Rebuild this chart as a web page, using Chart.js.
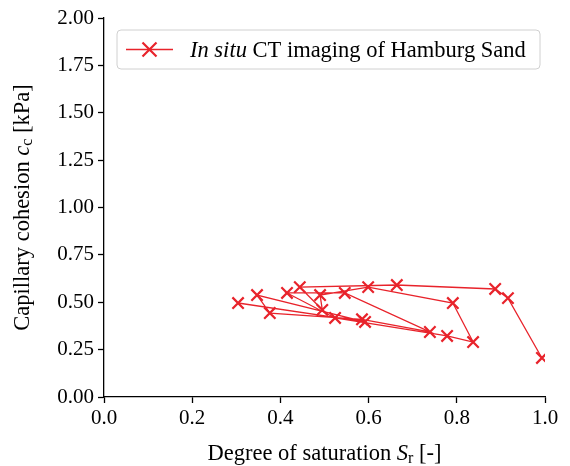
<!DOCTYPE html>
<html>
<head>
<meta charset="utf-8">
<script src="https://cdn.jsdelivr.net/npm/chart.js@4/dist/chart.umd.min.js"></script>
<style>
  html, body { margin: 0; padding: 0; background: #fff; }
  #wrap { width: 570px; height: 466px; position: relative; }
</style>
</head>
<body>
<div id="wrap"><canvas id="c" width="570" height="466"></canvas></div>
<script>
// Degree of saturation S_r [-] for each CT scan, in measurement order
const saturation = [0.304, 0.592, 0.347, 0.376, 0.585, 0.739, 0.546, 0.415, 0.524, 0.778,
                    0.837, 0.791, 0.599, 0.490, 0.495, 0.444, 0.664, 0.887, 0.916, 0.993];
// Capillary cohesion c_c [kPa] for the same scans
const cohesion   = [0.496, 0.396, 0.538, 0.443, 0.410, 0.343, 0.549, 0.549, 0.417, 0.322,
                    0.290, 0.496, 0.580, 0.538, 0.460, 0.580, 0.591, 0.570, 0.522, 0.206];
const xTicks = [0.0, 0.2, 0.4, 0.6, 0.8, 1.0];
const yTicks = [0.00, 0.25, 0.50, 0.75, 1.00, 1.25, 1.50, 1.75, 2.00];

const RED = '#e8232b';
const FONT = '"Liberation Serif", "Times New Roman", serif';
const TITLE_SIZE = 22.5;
const SUB_SIZE = 16;

const points = saturation.map((s, i) => ({ x: s, y: cohesion[i] }));

// Axis titles and legend with italic / subscript parts
const annotate = {
  id: 'annotate',
  afterDraw(chart) {
    const ctx = chart.ctx;
    const area = chart.chartArea;
    ctx.save();
    ctx.fillStyle = '#000';
    ctx.textBaseline = 'alphabetic';
    ctx.textAlign = 'left';

    function setFont(p) {
      ctx.font = (p.italic ? 'italic ' : '') + p.size + 'px ' + FONT;
    }
    function runs(parts, x, y) {
      let cx = x;
      for (const p of parts) {
        setFont(p);
        ctx.fillText(p.t, cx, y + (p.dy || 0));
        cx += ctx.measureText(p.t).width;
      }
    }
    function width(parts) {
      let w = 0;
      for (const p of parts) { setFont(p); w += ctx.measureText(p.t).width; }
      return w;
    }

    // x-axis title
    const xt = [
      { t: 'Degree of saturation ', size: TITLE_SIZE },
      { t: 'S', size: TITLE_SIZE, italic: true },
      { t: 'r', size: SUB_SIZE, dy: 3 },
      { t: ' [-]', size: TITLE_SIZE }
    ];
    runs(xt, (area.left + area.right) / 2 - width(xt) / 2, 460);

    // y-axis title (rotated)
    const yt = [
      { t: 'Capillary cohesion ', size: TITLE_SIZE },
      { t: 'c', size: TITLE_SIZE, italic: true },
      { t: 'c', size: SUB_SIZE, dy: 3 },
      { t: ' [kPa]', size: TITLE_SIZE }
    ];
    ctx.save();
    ctx.translate(29, (area.top + area.bottom) / 2);
    ctx.rotate(-Math.PI / 2);
    runs(yt, -width(yt) / 2, 0);
    ctx.restore();

    // legend box
    const bx = 117, by = 30, bw = 423, bh = 39, r = 4;
    ctx.beginPath();
    ctx.moveTo(bx + r, by);
    ctx.arcTo(bx + bw, by, bx + bw, by + bh, r);
    ctx.arcTo(bx + bw, by + bh, bx, by + bh, r);
    ctx.arcTo(bx, by + bh, bx, by, r);
    ctx.arcTo(bx, by, bx + bw, by, r);
    ctx.closePath();
    ctx.fillStyle = 'rgba(255,255,255,0.8)';
    ctx.fill();
    ctx.strokeStyle = '#d0d0d0';
    ctx.lineWidth = 1;
    ctx.stroke();

    const ly = by + bh / 2;
    ctx.strokeStyle = RED;
    ctx.lineWidth = 1.5;
    ctx.beginPath();
    ctx.moveTo(126, ly); ctx.lineTo(173, ly);
    ctx.stroke();
    ctx.lineWidth = 2.2;
    const m = 7;
    ctx.beginPath();
    ctx.moveTo(149.5 - m, ly - m); ctx.lineTo(149.5 + m, ly + m);
    ctx.moveTo(149.5 - m, ly + m); ctx.lineTo(149.5 + m, ly - m);
    ctx.stroke();

    ctx.fillStyle = '#000';
    runs([
      { t: 'In situ', size: TITLE_SIZE, italic: true },
      { t: ' CT imaging of Hamburg Sand', size: TITLE_SIZE }
    ], 190, ly + 7);
    ctx.restore();
  }
};

new Chart(document.getElementById('c'), {
  type: 'line',
  data: {
    datasets: [{
      label: 'In situ CT imaging of Hamburg Sand',
      data: points,
      borderColor: RED,
      backgroundColor: RED,
      borderWidth: 1.3,
      pointStyle: 'crossRot',
      pointRadius: 8,
      pointBorderWidth: 2.2,
      pointBorderColor: RED,
      tension: 0,
      fill: false
    }]
  },
  plugins: [annotate],
  options: {
    responsive: false,
    animation: false,
    events: [],
    layout: { padding: { left: 0, right: 25, top: 18, bottom: 0 } },
    plugins: { legend: { display: false }, tooltip: { enabled: false } },
    scales: {
      x: {
        type: 'linear',
        min: 0, max: 1,
        afterBuildTicks: (ax) => { ax.ticks = xTicks.map(v => ({ value: v })); },
        afterFit: (ax) => { ax.height = 69; },
        ticks: {
          color: '#000',
          font: { family: FONT, size: 21 },
          padding: 3,
          maxRotation: 0,
          callback: (v) => Number(v).toFixed(1)
        },
        grid: { display: true, drawOnChartArea: false, drawTicks: true, tickLength: 6, color: '#000', tickWidth: 1.3 },
        border: { display: true, color: '#000', width: 1.3 }
      },
      y: {
        type: 'linear',
        min: 0, max: 2,
        afterBuildTicks: (ax) => { ax.ticks = yTicks.map(v => ({ value: v })); },
        afterFit: (ax) => { ax.width = 104; },
        ticks: {
          color: '#000',
          font: { family: FONT, size: 21 },
          padding: 4,
          callback: (v) => Number(v).toFixed(2)
        },
        grid: { display: true, drawOnChartArea: false, drawTicks: true, tickLength: 6, color: '#000', tickWidth: 1.3 },
        border: { display: true, color: '#000', width: 1.3 }
      }
    }
  }
});
</script>
</body>
</html>
